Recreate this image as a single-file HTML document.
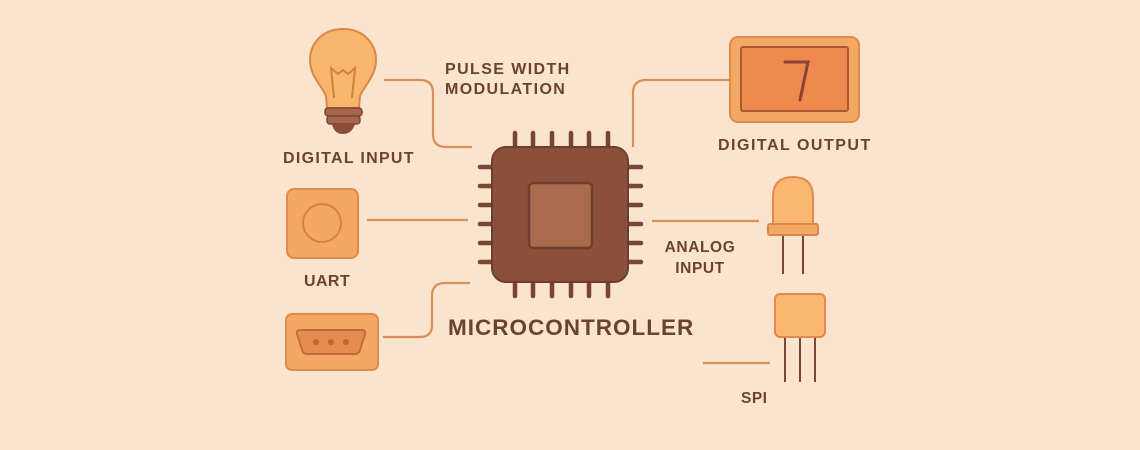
<!DOCTYPE html>
<html><head><style>
html,body{margin:0;padding:0;background:#fbe4cd;}
svg{display:block}
text{font-family:"Liberation Sans",sans-serif;font-weight:bold;fill:#6b4232;}
</style></head><body>
<svg width="1140" height="450" viewBox="0 0 1140 450" xmlns="http://www.w3.org/2000/svg">
<rect width="1140" height="450" fill="#fbe4cd"/>
<g fill="none" stroke="#d98f58" stroke-width="2.2">
<path d="M384 80 H420 Q433 80 433 93 V134 Q433 147 446 147 H472"/>
<line x1="367" y1="220" x2="468" y2="220"/>
<path d="M383 337 H420 Q432 337 432 325 V296 Q432 283 445 283 H470"/>
<path d="M729 80 H646 Q633 80 633 93 V147"/>
<line x1="652" y1="221" x2="759" y2="221"/>
<line x1="703" y1="363" x2="770" y2="363"/>
</g>
<!-- bulb -->
<path d="M343 29 C322 29 310 44 310 60 C310 76 322 86 326 96 L327 108 L359 108 L360 96 C364 86 376 76 376 60 C376 44 364 29 343 29 Z" fill="#f9b56e" stroke="#d9884a" stroke-width="2"/>
<path d="M334 98 L331 68 L338 74 L343 70 L348 74 L355 68 L352 98" fill="none" stroke="#d0803f" stroke-width="2"/>
<rect x="325" y="108" width="37" height="8" rx="3" fill="#a8654a" stroke="#7a4535" stroke-width="1.5"/>
<rect x="327" y="116" width="33" height="8" rx="3" fill="#a8654a" stroke="#7a4535" stroke-width="1.5"/>
<path d="M332 124 H355 Q352 134 343 134 Q334 134 332 124Z" fill="#8a4d3a"/>
<text x="283" y="163" font-size="16" letter-spacing="1.3">DIGITAL INPUT</text>
<text x="445" y="74" font-size="16" letter-spacing="1.4">PULSE WIDTH</text>
<text x="445" y="94" font-size="16" letter-spacing="1.4">MODULATION</text>
<!-- UART -->
<rect x="287" y="189" width="71" height="69" rx="7" fill="#f5a764" stroke="#e08b4c" stroke-width="2"/>
<circle cx="322" cy="223" r="19" fill="none" stroke="#d8823f" stroke-width="2"/>
<text x="304" y="286" font-size="16" letter-spacing="0.4">UART</text>
<!-- serial -->
<rect x="286" y="314" width="92" height="56" rx="6" fill="#f5a764" stroke="#e08b4c" stroke-width="2"/>
<path d="M300 330 H362 Q366 330 365 334 L360 350 Q359 354 355 354 H307 Q303 354 302 350 L297 334 Q296 330 300 330Z" fill="#e48d50" stroke="#bf6e3a" stroke-width="2"/>
<circle cx="316" cy="342" r="3" fill="#b9693a"/><circle cx="331" cy="342" r="3" fill="#b9693a"/><circle cx="346" cy="342" r="3" fill="#b9693a"/>
<!-- chip pins -->
<g stroke="#7a4535" stroke-width="4.5" stroke-linecap="round">
<line x1="515" y1="133" x2="515" y2="150"/><line x1="533" y1="133" x2="533" y2="150"/><line x1="552" y1="133" x2="552" y2="150"/><line x1="571" y1="133" x2="571" y2="150"/><line x1="589" y1="133" x2="589" y2="150"/><line x1="608" y1="133" x2="608" y2="150"/>
<line x1="515" y1="280" x2="515" y2="296"/><line x1="533" y1="280" x2="533" y2="296"/><line x1="552" y1="280" x2="552" y2="296"/><line x1="571" y1="280" x2="571" y2="296"/><line x1="589" y1="280" x2="589" y2="296"/><line x1="608" y1="280" x2="608" y2="296"/>
<line x1="480" y1="167" x2="495" y2="167"/><line x1="480" y1="186" x2="495" y2="186"/><line x1="480" y1="205" x2="495" y2="205"/><line x1="480" y1="224" x2="495" y2="224"/><line x1="480" y1="243" x2="495" y2="243"/><line x1="480" y1="262" x2="495" y2="262"/>
<line x1="626" y1="167" x2="641" y2="167"/><line x1="626" y1="186" x2="641" y2="186"/><line x1="626" y1="205" x2="641" y2="205"/><line x1="626" y1="224" x2="641" y2="224"/><line x1="626" y1="243" x2="641" y2="243"/><line x1="626" y1="262" x2="641" y2="262"/>
</g>
<rect x="492" y="147" width="136" height="135" rx="14" fill="#8b5039" stroke="#6e3d2d" stroke-width="2"/>
<rect x="529" y="183" width="63" height="65" rx="4" fill="#a96b4d" stroke="#6e3d2d" stroke-width="2.5"/>
<text x="448" y="335" font-size="22.5" letter-spacing="1" fill="#6b3e2e">MICROCONTROLLER</text>
<!-- display -->
<rect x="730" y="37" width="129" height="85" rx="8" fill="#f5a764" stroke="#e08b4c" stroke-width="2"/>
<rect x="741" y="47" width="107" height="64" rx="2" fill="#ee8a4f" stroke="#a85a36" stroke-width="2"/>
<path d="M785 62 H808 L800 100" fill="none" stroke="#8a4332" stroke-width="3" stroke-linecap="round"/>
<text x="718" y="150" font-size="16" letter-spacing="1.5">DIGITAL OUTPUT</text>
<!-- LED -->
<line x1="783" y1="234" x2="783" y2="274" stroke="#7a4535" stroke-width="2"/>
<line x1="803" y1="234" x2="803" y2="274" stroke="#7a4535" stroke-width="2"/>
<path d="M773 225 V197 Q773 177 793 177 Q813 177 813 197 V225Z" fill="#fbb772" stroke="#e08b4c" stroke-width="2"/>
<rect x="768" y="224" width="50" height="11" rx="2" fill="#f5a764" stroke="#d9884a" stroke-width="2"/>
<text x="700" y="252" font-size="15.5" text-anchor="middle" letter-spacing="0.6">ANALOG</text>
<text x="700" y="273" font-size="15.5" text-anchor="middle" letter-spacing="0.6">INPUT</text>
<!-- transistor -->
<line x1="785" y1="335" x2="785" y2="382" stroke="#7a4535" stroke-width="2"/>
<line x1="800" y1="335" x2="800" y2="382" stroke="#7a4535" stroke-width="2"/>
<line x1="815" y1="335" x2="815" y2="382" stroke="#7a4535" stroke-width="2"/>
<rect x="775" y="294" width="50" height="43" rx="5" fill="#fbb772" stroke="#e08b4c" stroke-width="2"/>
<text x="741" y="403" font-size="15.5" letter-spacing="0.5">SPI</text>
</svg>
</body></html>
